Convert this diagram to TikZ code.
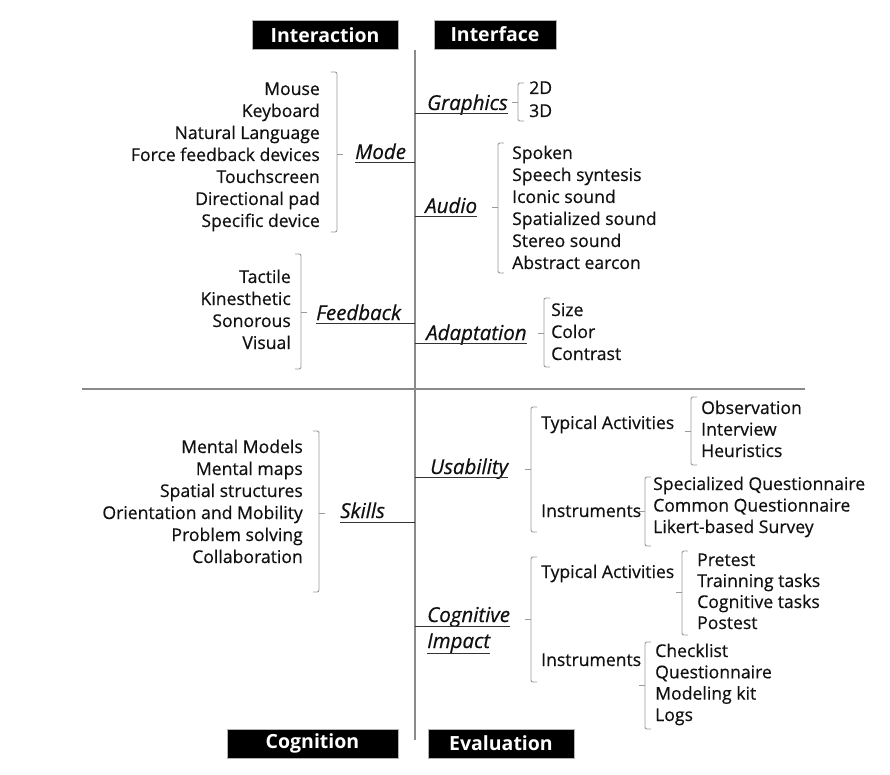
\documentclass[tikz,border=0pt]{standalone}
\usepackage{fontspec}
\setmainfont{Open Sans}
\newfontfamily\itemfont{Open Sans}[FakeBold=0.5]
\definecolor{txt}{HTML}{111111}
\definecolor{spinec}{HTML}{8A8A8A}
\definecolor{brc}{HTML}{9A9A9A}
\newcommand{\brackR}[4]{\draw[br] ({#1-6},{#2}) -- ({#1},{#2}) -- ({#1},{#3}) -- ({#1-6},{#3}); \draw[br] ({#1},{#4}) -- ({#1+6},{#4});}
\newcommand{\brackL}[4]{\draw[br] ({#1+6},{#2}) -- ({#1},{#2}) -- ({#1},{#3}) -- ({#1+6},{#3}); \draw[br] ({#1},{#4}) -- ({#1-6},{#4});}
\begin{document}
\begin{tikzpicture}[x=1pt,y=-1pt,
  itemL/.style={anchor=base east,inner sep=0pt,text=txt,font=\itemfont\fontsize{17.6}{20}\selectfont},
  itemR/.style={anchor=base west,inner sep=0pt,text=txt,font=\itemfont\fontsize{17.6}{20}\selectfont},
  lab/.style={anchor=base west,inner sep=0pt,text=txt,font=\itemfont\fontsize{20.5}{23}\selectfont\itshape},
  head/.style={fill=black,draw=gray!60,line width=0.6pt,text=white,font=\fontsize{19.5}{23}\selectfont\bfseries,minimum height=29pt,inner sep=0pt},
  br/.style={draw=brc,line width=0.9pt,rounded corners=2pt},
  ul/.style={draw=black!80,line width=0.9pt},
  spine/.style={draw=spinec,line width=1.4pt}]
\useasboundingbox (0,0) rectangle (890,775);
\fill[white] (0,0) rectangle (890,775);

% headers
\node[head,minimum width=146pt] (hInteraction) at (325,35) {Interaction};
\node[head,minimum width=122pt] (hInterface) at (495,34.5) {Interface};
\node[head,minimum width=171pt] (hCognition) at (312.5,743.5) {Cognition};
\node[head,minimum width=146pt] (hEvaluation) at (501,743.5) {Evaluation};

% spine and divider
\coordinate (sTop) at (415,50);
\coordinate (sBot) at (415,740);
\coordinate (dL) at (82,389);
\coordinate (dR) at (805,389);
\draw[spine] (sTop) -- (sBot);
\draw[draw=spinec,line width=1.1pt] (dL) -- (dR);

% ---------- Interaction: Mode ----------
\node[itemL] (m1) at (320,95) {Mouse};
\node[itemL] (m2) at (320,117) {Keyboard};
\node[itemL] (m3) at (320,139) {Natural Language};
\node[itemL] (m4) at (320,161) {Force feedback devices};
\node[itemL] (m5) at (320,183) {Touchscreen};
\node[itemL] (m6) at (320,205) {Directional pad};
\node[itemL] (m7) at (320,227) {Specific device};
\brackR{337}{72}{232}{154}
\node[lab] (mode) at (355,159) {Mode};
\coordinate (sMode) at (415,162);
\draw[ul] (sMode) -- (sMode -| mode.west);

% ---------- Interaction: Feedback ----------
\node[itemL] (f1) at (291,283) {Tactile};
\node[itemL] (f2) at (291,305) {Kinesthetic};
\node[itemL] (f3) at (291,327) {Sonorous};
\node[itemL] (f4) at (291,349) {Visual};
\brackR{301}{254}{369}{312}
\node[lab] (feedback) at (316,320) {Feedback};
\coordinate (sFeedback) at (415,323);
\draw[ul] (sFeedback) -- (sFeedback -| feedback.west);

% ---------- Interface: Graphics ----------
\node[lab] (graphics) at (427,110) {Graphics};
\coordinate (sGraphics) at (415,113);
\draw[ul] (sGraphics) -- (sGraphics -| graphics.east);
\brackL{518}{83}{121}{102}
\node[itemR] (g1) at (529,94) {2D};
\node[itemR] (g2) at (529,117) {3D};

% ---------- Interface: Audio ----------
\node[lab] (audio) at (425,213) {Audio};
\coordinate (sAudio) at (415,216);
\draw[ul] (sAudio) -- (sAudio -| audio.east);
\brackL{498}{143}{273}{207}
\node[itemR] (a1) at (512,159) {Spoken};
\node[itemR] (a2) at (512,181) {Speech syntesis};
\node[itemR] (a3) at (512,203) {Iconic sound};
\node[itemR] (a4) at (512,225) {Spatialized sound};
\node[itemR] (a5) at (512,247) {Stereo sound};
\node[itemR] (a6) at (512,269) {Abstract earcon};

% ---------- Interface: Adaptation ----------
\node[lab] (adaptation) at (426,340) {Adaptation};
\coordinate (sAdaptation) at (415,343);
\draw[ul] (sAdaptation) -- (sAdaptation -| adaptation.east);
\brackL{544}{298}{367}{333}
\node[itemR] (d1) at (551,316) {Size};
\node[itemR] (d2) at (551,338) {Color};
\node[itemR] (d3) at (551,360) {Contrast};

% ---------- Cognition: Skills ----------
\node[itemL] (k1) at (303,453) {Mental Models};
\node[itemL] (k2) at (303,475) {Mental maps};
\node[itemL] (k3) at (303,497) {Spatial structures};
\node[itemL] (k4) at (303,519) {Orientation and Mobility};
\node[itemL] (k5) at (303,541) {Problem solving};
\node[itemL] (k6) at (303,563) {Collaboration};
\brackR{319}{431}{592}{513}
\node[lab] (skills) at (340,518) {Skills};
\coordinate (sSkills) at (415,522);
\draw[ul] (sSkills) -- (sSkills -| skills.west);

% ---------- Evaluation: Usability ----------
\node[lab] (usability) at (430,474) {Usability};
\coordinate (sUsability) at (415,477);
\draw[ul] (sUsability) -- (sUsability -| usability.east);
\brackL{531}{407}{532}{469}
\node[itemR] (uta) at (541,429) {Typical Activities};
\brackL{691}{397}{465}{431}
\node[itemR] (u1) at (701,414) {Observation};
\node[itemR] (u2) at (701,435.5) {Interview};
\node[itemR] (u3) at (701,457) {Heuristics};
\node[itemR] (uin) at (541,517) {Instruments};
\brackL{645}{477}{546}{511}
\node[itemR] (v1) at (653,490) {Specialized Questionnaire};
\node[itemR] (v2) at (653,511.5) {Common Questionnaire};
\node[itemR] (v3) at (653,533) {Likert-based Survey};

% ---------- Evaluation: Cognitive Impact ----------
\node[lab] (cognitive) at (427,622) {Cognitive};
\coordinate (sCognitive) at (415,626);
\draw[ul] (sCognitive) -- (sCognitive -| cognitive.east);
\node[lab] (impact) at (427,648) {Impact};
\draw[ul] ([yshift=-5pt]impact.base west) -- ([yshift=-5pt]impact.base east);
\brackL{531}{557}{682}{619}
\node[itemR] (cta) at (541,578) {Typical Activities};
\brackL{682}{551}{635}{592}
\node[itemR] (c1) at (697,566) {Pretest};
\node[itemR] (c2) at (697,587) {Trainning tasks};
\node[itemR] (c3) at (697,608) {Cognitive tasks};
\node[itemR] (c4) at (697,629) {Postest};
\node[itemR] (cin) at (541,666) {Instruments};
\brackL{645}{642}{729}{685}
\node[itemR] (e1) at (655,657) {Checklist};
\node[itemR] (e2) at (655,678.3) {Questionnaire};
\node[itemR] (e3) at (655,699.6) {Modeling kit};
\node[itemR] (e4) at (655,721) {Logs};
\end{tikzpicture}
\end{document}
